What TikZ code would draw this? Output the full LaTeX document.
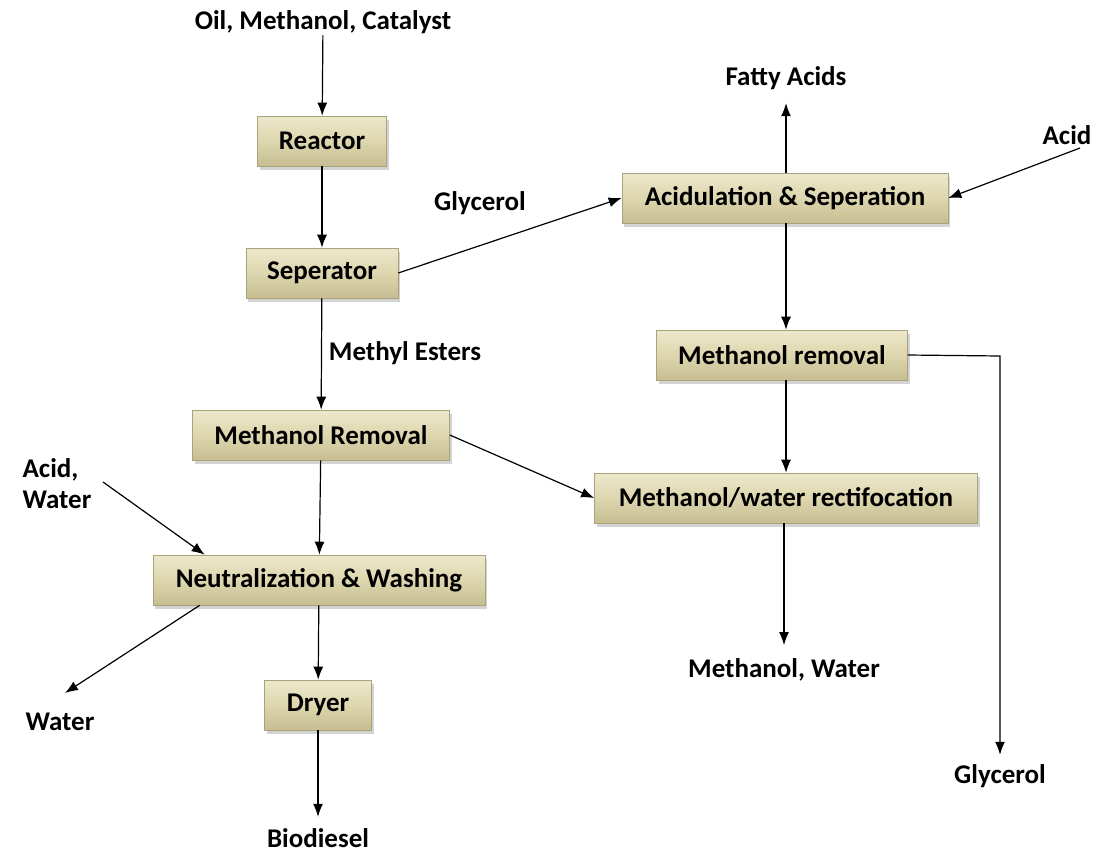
\documentclass[tikz,border=0pt]{standalone}
\usepackage{fontspec}
\setmainfont{Carlito}
\usetikzlibrary{arrows.meta,shadows}
\definecolor{boxtop}{RGB}{236,232,204}
\definecolor{boxmid}{RGB}{221,214,174}
\definecolor{boxbot}{RGB}{198,190,146}
\definecolor{boxedge}{RGB}{170,162,120}
\begin{document}
\begin{tikzpicture}
  [
  x=1pt, y=-1pt,
  font=\fontsize{27}{31}\selectfont\bfseries, line width=1.2pt,
  unit/.style={rectangle, inner sep=0pt, minimum height=50pt, draw=boxedge, line width=0.6pt,
    top color=boxtop, bottom color=boxbot, middle color=boxmid,
    drop shadow={shadow xshift=2pt, shadow yshift=-4pt, opacity=0.35}},
  stream/.style={inner sep=1pt},
  flow/.style={-{Latex[length=13pt,width=10pt]}}
  ]

\useasboundingbox (0,0) rectangle (1099,854);

\node[unit, minimum width=129pt] (reactor) at (322,141) {Reactor};
\node[unit, minimum width=152pt] (sep) at (322,273) {Seperator};
\node[unit, minimum width=257pt] (mrem) at (321,435) {Methanol Removal};
\node[unit, minimum width=332pt] (neut) at (319,580) {Neutralization \& Washing};
\node[unit, minimum width=107pt] (dryer) at (318,705) {Dryer};
\node[unit, minimum width=326pt] (acid) at (785,198) {Acidulation \& Seperation};
\node[unit, minimum width=251pt] (mrem2) at (782,355) {Methanol removal};
\node[unit, minimum width=383pt] (rect) at (786,498) {Methanol/water rectifocation};

\node[stream] (feed) at (323,22) {Oil, Methanol, Catalyst};
\node[stream] (fatty) at (786,78) {Fatty Acids};
\node[stream] (acidin) at (1067,135) {Acid};
\node[stream] (glyc) at (480,203) {Glycerol};
\node[stream] (esters) at (405,353) {Methyl Esters};
\node[stream, align=left] (acidw) at (57,484) {Acid,\\Water};
\node[stream] (water) at (60,722) {Water};
\node[stream] (biod) at (318,838) {Biodiesel};
\node[stream] (mw) at (784,670) {Methanol, Water};
\node[stream] (glyc2) at (1000,776) {Glycerol};

\coordinate (corner) at (1000,356);
\coordinate (acidtail) at (1080,148);
\coordinate (awtail) at (103,482);
\coordinate (waterhead) at (65,693);

\draw[flow] (feed) -- (reactor);
\draw[flow] (reactor) -- (sep);
\draw[flow] (sep) -- (mrem);
\draw[flow] (sep.east) -- (acid.west);
\draw[flow] (acid.north -| fatty) -- ([yshift=-12pt]fatty.south);
\draw[flow] (acidtail) -- (acid.east);
\draw[flow] (acid.south -| fatty) -- (mrem2.north -| fatty);
\draw[flow] (mrem2.south -| fatty) -- (rect.north -| fatty);
\draw[flow] (mrem2.east) -- (corner) -- ([yshift=8pt]glyc2.north);
\draw[flow] (mrem.east) -- (rect.west);
\draw[flow] (mrem) -- (neut);
\draw[flow] (awtail) -- ([xshift=52pt]neut.north west);
\draw[flow] ([xshift=47pt]neut.south west) -- (waterhead);
\draw[flow] (neut) -- (dryer);
\draw[flow] (dryer) -- ([yshift=10pt]biod.north);
\draw[flow] (rect.south -| mw) -- ([yshift=12pt]mw.north);
\end{tikzpicture}
\end{document}
